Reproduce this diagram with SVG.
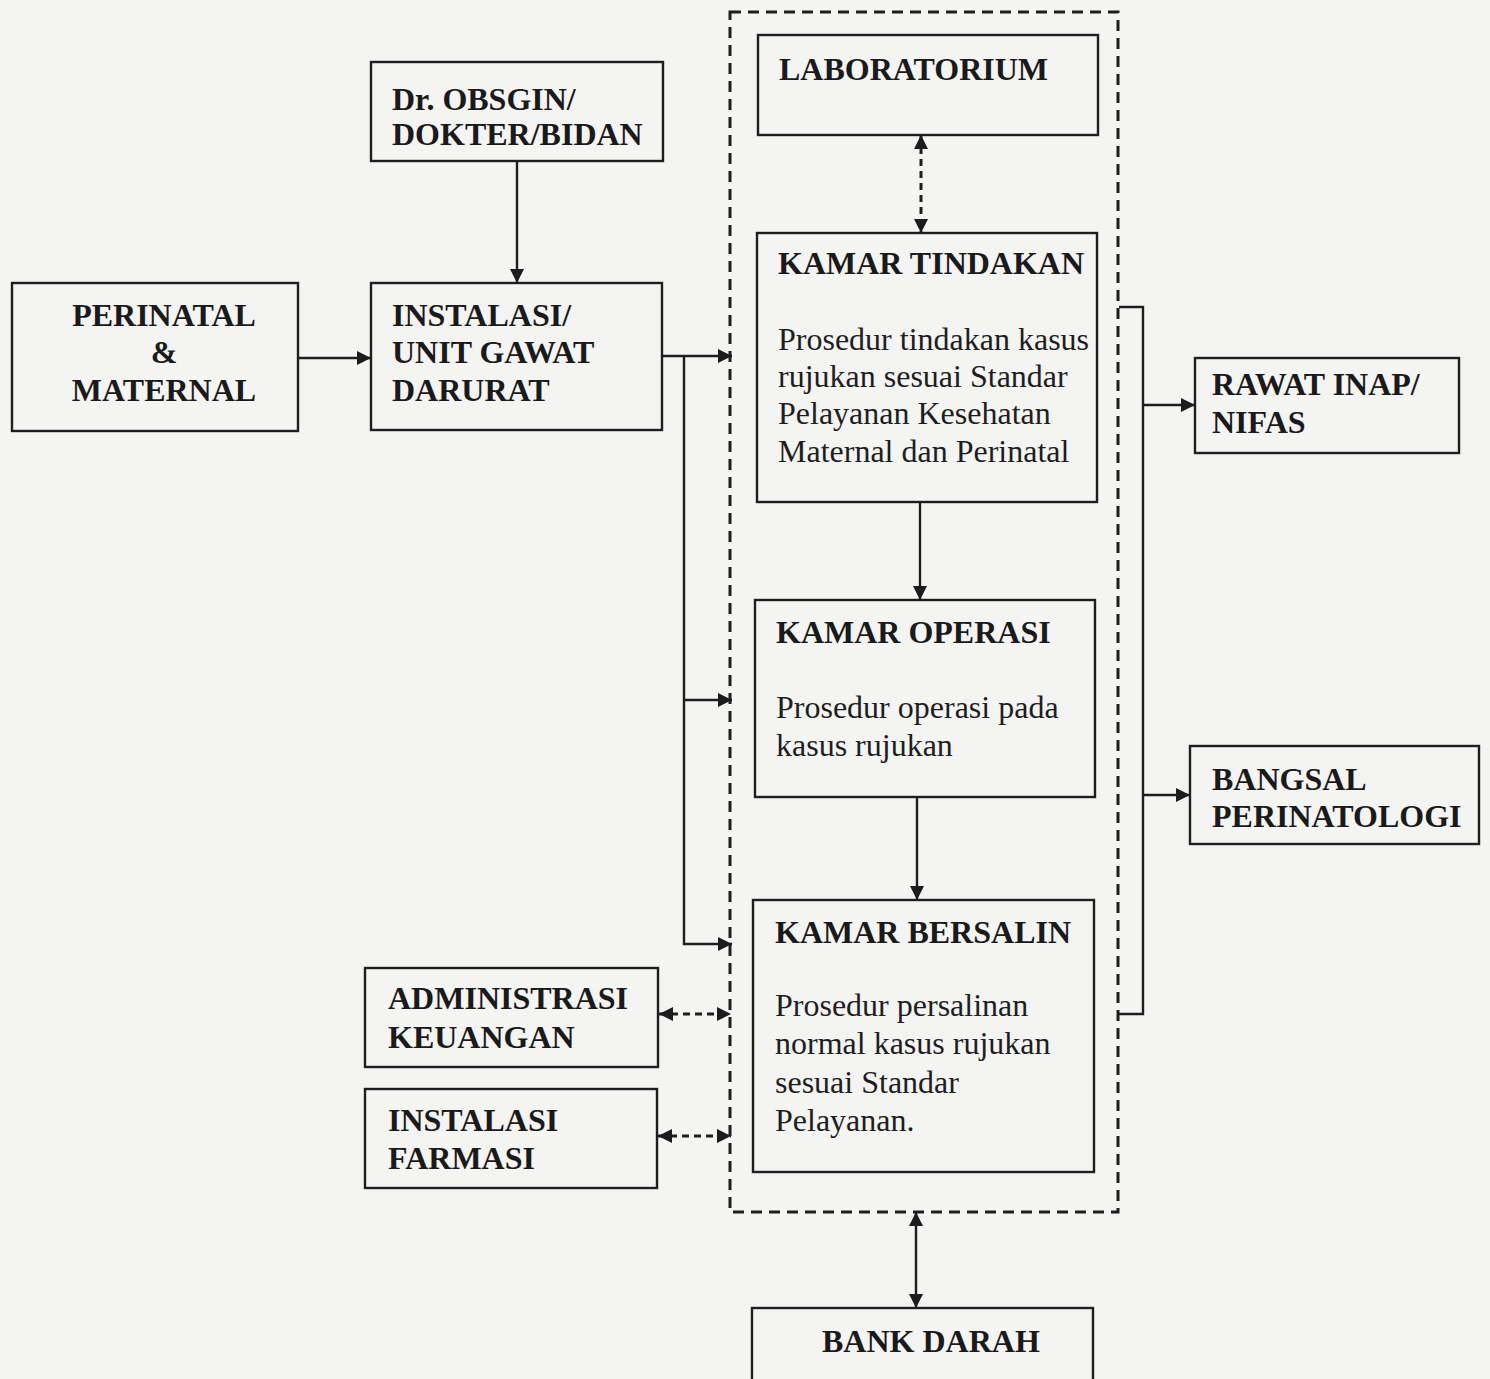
<svg xmlns="http://www.w3.org/2000/svg" width="1490" height="1379" viewBox="0 0 1490 1379">
<defs>
<marker id="ah" viewBox="0 0 14 14" refX="14" refY="7" markerWidth="14" markerHeight="14" markerUnits="userSpaceOnUse" orient="auto-start-reverse"><path d="M0,0 L14,7 L0,14 z" fill="#1c1c1c"/></marker>
<style>
.box{fill:none;stroke:#1e1e1e;stroke-width:2.4}
.t{font-family:"Liberation Serif","Times New Roman",serif;font-size:32px;font-weight:bold;fill:#1a1a1a}
.b{font-family:"Liberation Serif","Times New Roman",serif;font-size:32px;fill:#1e1e1e}
.ln{fill:none;stroke:#1e1e1e;stroke-width:2.4}
.dl{fill:none;stroke:#1e1e1e;stroke-width:3;stroke-dasharray:7 5}
.dc{fill:none;stroke:#1e1e1e;stroke-width:3;stroke-dasharray:11 7}
</style>
</defs>
<rect x="0" y="0" width="1490" height="1379" fill="#f4f4f2"/>

<g id="container"><rect class="dc" x="730" y="12" width="388" height="1200"/></g>

<g id="perinatal"><rect class="box" x="12" y="283" width="286" height="148"/>
<text class="t" text-anchor="middle"><tspan x="164" y="326">PERINATAL</tspan><tspan x="164" y="363">&amp;</tspan><tspan x="164" y="401">MATERNAL</tspan></text></g>

<g id="obsgin"><rect class="box" x="371" y="62" width="292" height="99"/>
<text class="t"><tspan x="392" y="110">Dr. OBSGIN/</tspan><tspan x="392" y="145">DOKTER/BIDAN</tspan></text></g>

<g id="ugd"><rect class="box" x="371" y="283" width="291" height="147"/>
<text class="t"><tspan x="392" y="326">INSTALASI/</tspan><tspan x="392" y="363">UNIT GAWAT</tspan><tspan x="392" y="401">DARURAT</tspan></text></g>

<g id="lab"><rect class="box" x="758" y="35" width="340" height="100"/>
<text class="t" x="779" y="80">LABORATORIUM</text></g>

<g id="kamar-tindakan"><rect class="box" x="757" y="233" width="340" height="269"/>
<text class="t" x="778" y="274">KAMAR TINDAKAN</text>
<text class="b"><tspan x="778" y="350">Prosedur tindakan kasus</tspan><tspan x="778" y="387">rujukan sesuai Standar</tspan><tspan x="778" y="424">Pelayanan Kesehatan</tspan><tspan x="778" y="462">Maternal dan Perinatal</tspan></text></g>

<g id="kamar-operasi"><rect class="box" x="755" y="600" width="340" height="197"/>
<text class="t" x="776" y="643">KAMAR OPERASI</text>
<text class="b"><tspan x="776" y="718">Prosedur operasi pada</tspan><tspan x="776" y="756">kasus rujukan</tspan></text></g>

<g id="kamar-bersalin"><rect class="box" x="753" y="900" width="341" height="272"/>
<text class="t" x="775" y="943">KAMAR BERSALIN</text>
<text class="b"><tspan x="775" y="1016">Prosedur persalinan</tspan><tspan x="775" y="1054">normal kasus rujukan</tspan><tspan x="775" y="1093">sesuai Standar</tspan><tspan x="775" y="1131">Pelayanan.</tspan></text></g>

<g id="rawat-inap"><rect class="box" x="1195" y="358" width="264" height="95"/>
<text class="t"><tspan x="1212" y="395">RAWAT INAP/</tspan><tspan x="1212" y="433">NIFAS</tspan></text></g>

<g id="bangsal"><rect class="box" x="1190" y="746" width="289" height="98"/>
<text class="t"><tspan x="1212" y="790">BANGSAL</tspan><tspan x="1212" y="827">PERINATOLOGI</tspan></text></g>

<g id="administrasi"><rect class="box" x="365" y="968" width="293" height="99"/>
<text class="t"><tspan x="388" y="1009">ADMINISTRASI</tspan><tspan x="388" y="1048">KEUANGAN</tspan></text></g>

<g id="farmasi"><rect class="box" x="365" y="1089" width="292" height="99"/>
<text class="t"><tspan x="388" y="1131">INSTALASI</tspan><tspan x="388" y="1169">FARMASI</tspan></text></g>

<g id="bank-darah"><rect class="box" x="752" y="1308" width="341" height="90"/>
<text class="t" x="822" y="1352">BANK DARAH</text></g>

<g id="connectors">
<line class="ln" x1="517" y1="161" x2="517" y2="283" marker-end="url(#ah)"/>
<line class="ln" x1="298" y1="358" x2="371" y2="358" marker-end="url(#ah)"/>
<line class="ln" x1="662" y1="356" x2="732" y2="356" marker-end="url(#ah)"/>
<path class="ln" d="M684,356 V944 H732" marker-end="url(#ah)"/>
<line class="ln" x1="684" y1="700" x2="732" y2="700" marker-end="url(#ah)"/>
<line class="dl" x1="921" y1="135" x2="921" y2="233" marker-start="url(#ah)" marker-end="url(#ah)"/>
<line class="ln" x1="920" y1="502" x2="920" y2="600" marker-end="url(#ah)"/>
<line class="ln" x1="917" y1="797" x2="917" y2="900" marker-end="url(#ah)"/>
<line class="dl" x1="659" y1="1014" x2="731" y2="1014" marker-start="url(#ah)" marker-end="url(#ah)"/>
<line class="dl" x1="658" y1="1136" x2="731" y2="1136" marker-start="url(#ah)" marker-end="url(#ah)"/>
<line class="ln" x1="916" y1="1212" x2="916" y2="1308" marker-start="url(#ah)" marker-end="url(#ah)"/>
<path class="ln" d="M1119,307 H1143 V1014 H1119"/>
<line class="ln" x1="1143" y1="405" x2="1195" y2="405" marker-end="url(#ah)"/>
<line class="ln" x1="1143" y1="795" x2="1190" y2="795" marker-end="url(#ah)"/>
</g>
</svg>
